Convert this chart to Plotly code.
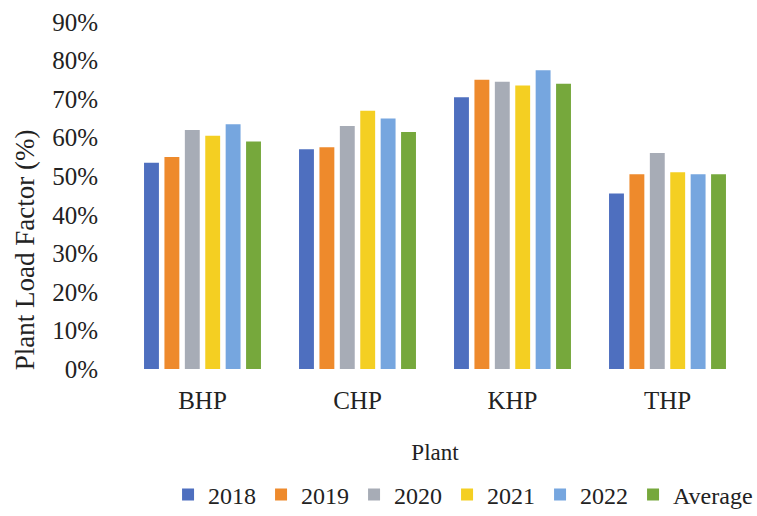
import plotly.graph_objects as go

# Plant load factor by hydropower plant, 2018-2022 plus the five-year average
plants = ["BHP", "CHP", "KHP", "THP"]
plf_2018 = [53.5, 57.0, 70.5, 45.5]
plf_2019 = [55.0, 57.5, 75.0, 50.5]
plf_2020 = [62.0, 63.0, 74.5, 56.0]
plf_2021 = [60.5, 67.0, 73.5, 51.0]
plf_2022 = [63.5, 65.0, 77.5, 50.5]
plf_avg = [59.0, 61.5, 74.0, 50.5]

series = [
    ("2018", plf_2018, "#4E6FBF"),
    ("2019", plf_2019, "#EE8A2C"),
    ("2020", plf_2020, "#A7ACB6"),
    ("2021", plf_2021, "#F4CF22"),
    ("2022", plf_2022, "#76A6DF"),
    ("Average", plf_avg, "#76A83C"),
]

y_ticks = list(range(0, 91, 10))
y_tick_text = [f"{v}%" for v in y_ticks]

FONT = "Liberation Serif, Times New Roman, serif"

fig = go.Figure()
for name, vals, color in series:
    fig.add_trace(go.Bar(name=name, x=plants, y=vals, marker_color=color,
                         marker_line_width=0))

fig.update_layout(
    width=757, height=516,
    margin=dict(l=125, r=12, t=22, b=147, autoexpand=False),
    paper_bgcolor="white", plot_bgcolor="white",
    font=dict(family=FONT, size=25, color="#222222"),
    barmode="group", bargap=0.21, bargroupgap=0.27,
    showlegend=True,
    legend=dict(orientation="h", xref="container", yref="container",
                x=0.222, xanchor="left", y=0.041, yanchor="middle",
                font=dict(size=24), itemwidth=30,
                traceorder="normal"),
)
fig.update_xaxes(
    automargin=False,
    showline=False, showgrid=False, zeroline=False, ticks="",
    ticklabelstandoff=14,
    title=dict(text="Plant", standoff=30, font=dict(size=23)),
)
fig.update_yaxes(
    automargin=False,
    range=[0, 90], tickvals=y_ticks, ticktext=y_tick_text,
    showline=False, showgrid=False, zeroline=False, ticks="",
    ticklabelstandoff=26,
)

# Vertical axis caption, set a little below the plot's mid-height
fig.add_annotation(
    text="Plant Load Factor (%)", textangle=-90,
    xref="paper", yref="paper", x=-0.161, y=0.343,
    xanchor="center", yanchor="middle", showarrow=False,
    font=dict(family=FONT, size=27, color="#222222"),
)

fig.write_html("out.html")
